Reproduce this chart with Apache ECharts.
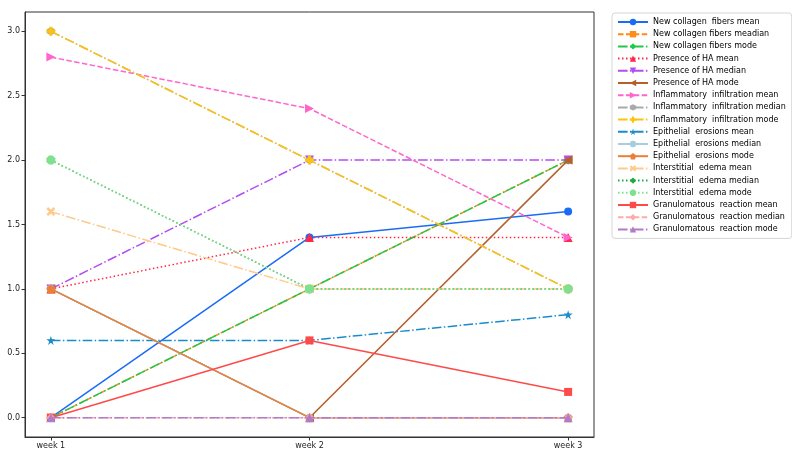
<!DOCTYPE html>
<html>
<head>
<meta charset="utf-8">
<script src="https://cdn.jsdelivr.net/npm/echarts@6/dist/echarts.min.js"></script>
<style>html,body{margin:0;padding:0;background:#fff}#c{width:792px;height:458px}</style>
</head>
<body>
<div id="c"></div>
<script>
var categories = ['week 1', 'week 2', 'week 3'];
var yTicks = [0, 0.5, 1.0, 1.5, 2.0, 2.5, 3.0];

var newCollagenMean = [0, 1.4, 1.6];
var newCollagenMedian = [0, 1, 2];
var newCollagenMode = [0, 1, 2];
var haMean = [1.0, 1.4, 1.4];
var haMedian = [1, 2, 2];
var haMode = [1, 0, 2];
var inflMean = [2.8, 2.4, 1.4];
var inflMedian = [3, 2, 1];
var inflMode = [3, 2, 1];
var epiMean = [0.6, 0.6, 0.8];
var epiMedian = [1, 0, 0];
var epiMode = [1, 0, 0];
var edemaMean = [1.6, 1.0, 1.0];
var edemaMedian = [2, 1, 1];
var edemaMode = [2, 1, 1];
var granMean = [0, 0.6, 0.2];
var granMedian = [0, 0, 0];
var granMode = [0, 0, 0];

var P = {
  triDown: 'path://M0,0 L10,0 L5,9 Z',
  triLeft: 'path://M9,0 L9,10 L0,5 Z',
  triRight: 'path://M0,0 L0,10 L9,5 Z',
  pentagon: 'path://M5,0 L10,3.8 L8.1,10 L1.9,10 L0,3.8 Z',
  hexagon: 'path://M5,0 L9.33,2.5 L9.33,7.5 L5,10 L0.67,7.5 L0.67,2.5 Z',
  plus: 'path://M3.3,0 H6.7 V3.3 H10 V6.7 H6.7 V10 H3.3 V6.7 H0 V3.3 H3.3 Z',
  star: 'path://M5,0 L6.2,3.6 L10,3.6 L6.9,5.9 L8.1,9.5 L5,7.3 L1.9,9.5 L3.1,5.9 L0,3.6 L3.8,3.6 Z',
  xmark: 'path://M2,0 L5,3 L8,0 L10,2 L7,5 L10,8 L8,10 L5,7 L2,10 L0,8 L3,5 L0,2 Z',
  octagon: 'path://M3,0 H7 L10,3 V7 L7,10 H3 L0,7 V3 Z'
};
var DASH = [5.5, 2.4], DOT = [1.5, 2.5], DASHDOT = [9.6, 2.4, 1.5, 2.4];

var defs = [
  ['New collagen  fibers mean', newCollagenMean, '#1a6cf5', 'solid', 'circle', 8],
  ['New collagen fibers meadian', newCollagenMedian, '#ff8c1a', DASH, 'rect', 8],
  ['New collagen fibers mode', newCollagenMode, '#22c84a', DASHDOT, 'diamond', 9],
  ['Presence of HA mean', haMean, '#ff2a45', DOT, 'triangle', 9],
  ['Presence of HA median', haMedian, '#b24df0', DASHDOT, P.triDown, 9],
  ['Presence of HA mode', haMode, '#b5602a', 'solid', P.triLeft, 9],
  ['Inflammatory  infiltration mean', inflMean, '#ff66cc', DASH, P.triRight, 9],
  ['Inflammatory  infiltration median', inflMedian, '#aaaaaa', DASHDOT, P.hexagon, 8],
  ['Inflammatory  infiltration mode', inflMode, '#ffc20e', DASHDOT, P.plus, 9],
  ['Epithelial  erosions mean', epiMean, '#1a8ccc', DASHDOT, P.star, 9],
  ['Epithelial  erosions median', epiMedian, '#a6cee3', 'solid', 'circle', 8],
  ['Epithelial  erosions mode', epiMode, '#e8803a', 'solid', P.pentagon, 9],
  ['Interstitial  edema mean', edemaMean, '#ffc98b', DASHDOT, P.xmark, 9],
  ['Interstitial  edema median', edemaMedian, '#1eaa3c', DOT, 'diamond', [6, 9]],
  ['Interstitial  edema mode', edemaMode, '#7fe08f', DOT, P.octagon, 9],
  ['Granulomatous  reaction mean', granMean, '#ff4a4a', 'solid', 'rect', 8],
  ['Granulomatous  reaction median', granMedian, '#ffaaaa', DASH, 'diamond', 9],
  ['Granulomatous  reaction mode', granMode, '#b07cc8', DASHDOT, 'triangle', 9]
];

var series = defs.map(function (d, i) {
  return {
    name: d[0], type: 'line',
    data: d[1].map(function (v, j) { return [j, v]; }),
    symbol: d[4], symbolSize: d[5], showAllSymbol: true,
    lineStyle: { color: d[2], width: 1.5, type: d[3] },
    itemStyle: { color: d[2] },
    z: 2 + i * 0.01, zlevel: 0,
    animation: false
  };
});

var chart = echarts.init(document.getElementById('c'), null, { renderer: 'canvas' });
chart.setOption({
  animation: false,
  backgroundColor: '#fff',
  grid: { left: 25, right: 198, top: 12, bottom: 21, show: true, borderColor: '#333', borderWidth: 1, containLabel: false },
  xAxis: {
    type: 'value', min: -0.1, max: 2.1,
    axisLine: { show: true, onZero: false, lineStyle: { color: '#333' } },
    splitLine: { show: false },
    axisTick: { show: true, customValues: [0, 1, 2], length: 3.5, lineStyle: { color: '#333' } },
    axisLabel: { customValues: [0, 1, 2], formatter: function (v) { return categories[Math.round(v)]; }, color: '#222', fontSize: 8, fontFamily: 'DejaVu Sans', margin: 5 }
  },
  yAxis: {
    type: 'value', min: -0.15, max: 3.15,
    axisLine: { show: true, onZero: false, lineStyle: { color: '#333' } },
    splitLine: { show: false },
    axisTick: { show: true, customValues: yTicks, length: 3.5, lineStyle: { color: '#333' } },
    axisLabel: { customValues: yTicks, formatter: function (v) { return v.toFixed(1); }, color: '#222', fontSize: 8, fontFamily: 'DejaVu Sans', margin: 5 }
  },
  legend: {
    orient: 'vertical', left: 612, top: 13,
    itemWidth: 30, itemHeight: 8, itemGap: 4.2,
    textStyle: { fontSize: 8, fontFamily: 'DejaVu Sans', color: '#000' },
    borderColor: '#d5d5d5', borderWidth: 1, borderRadius: 3,
    padding: [5, 6, 5, 5],
    data: defs.map(function (d) { return d[0]; })
  },
  series: series
});
</script>
</body>
</html>
